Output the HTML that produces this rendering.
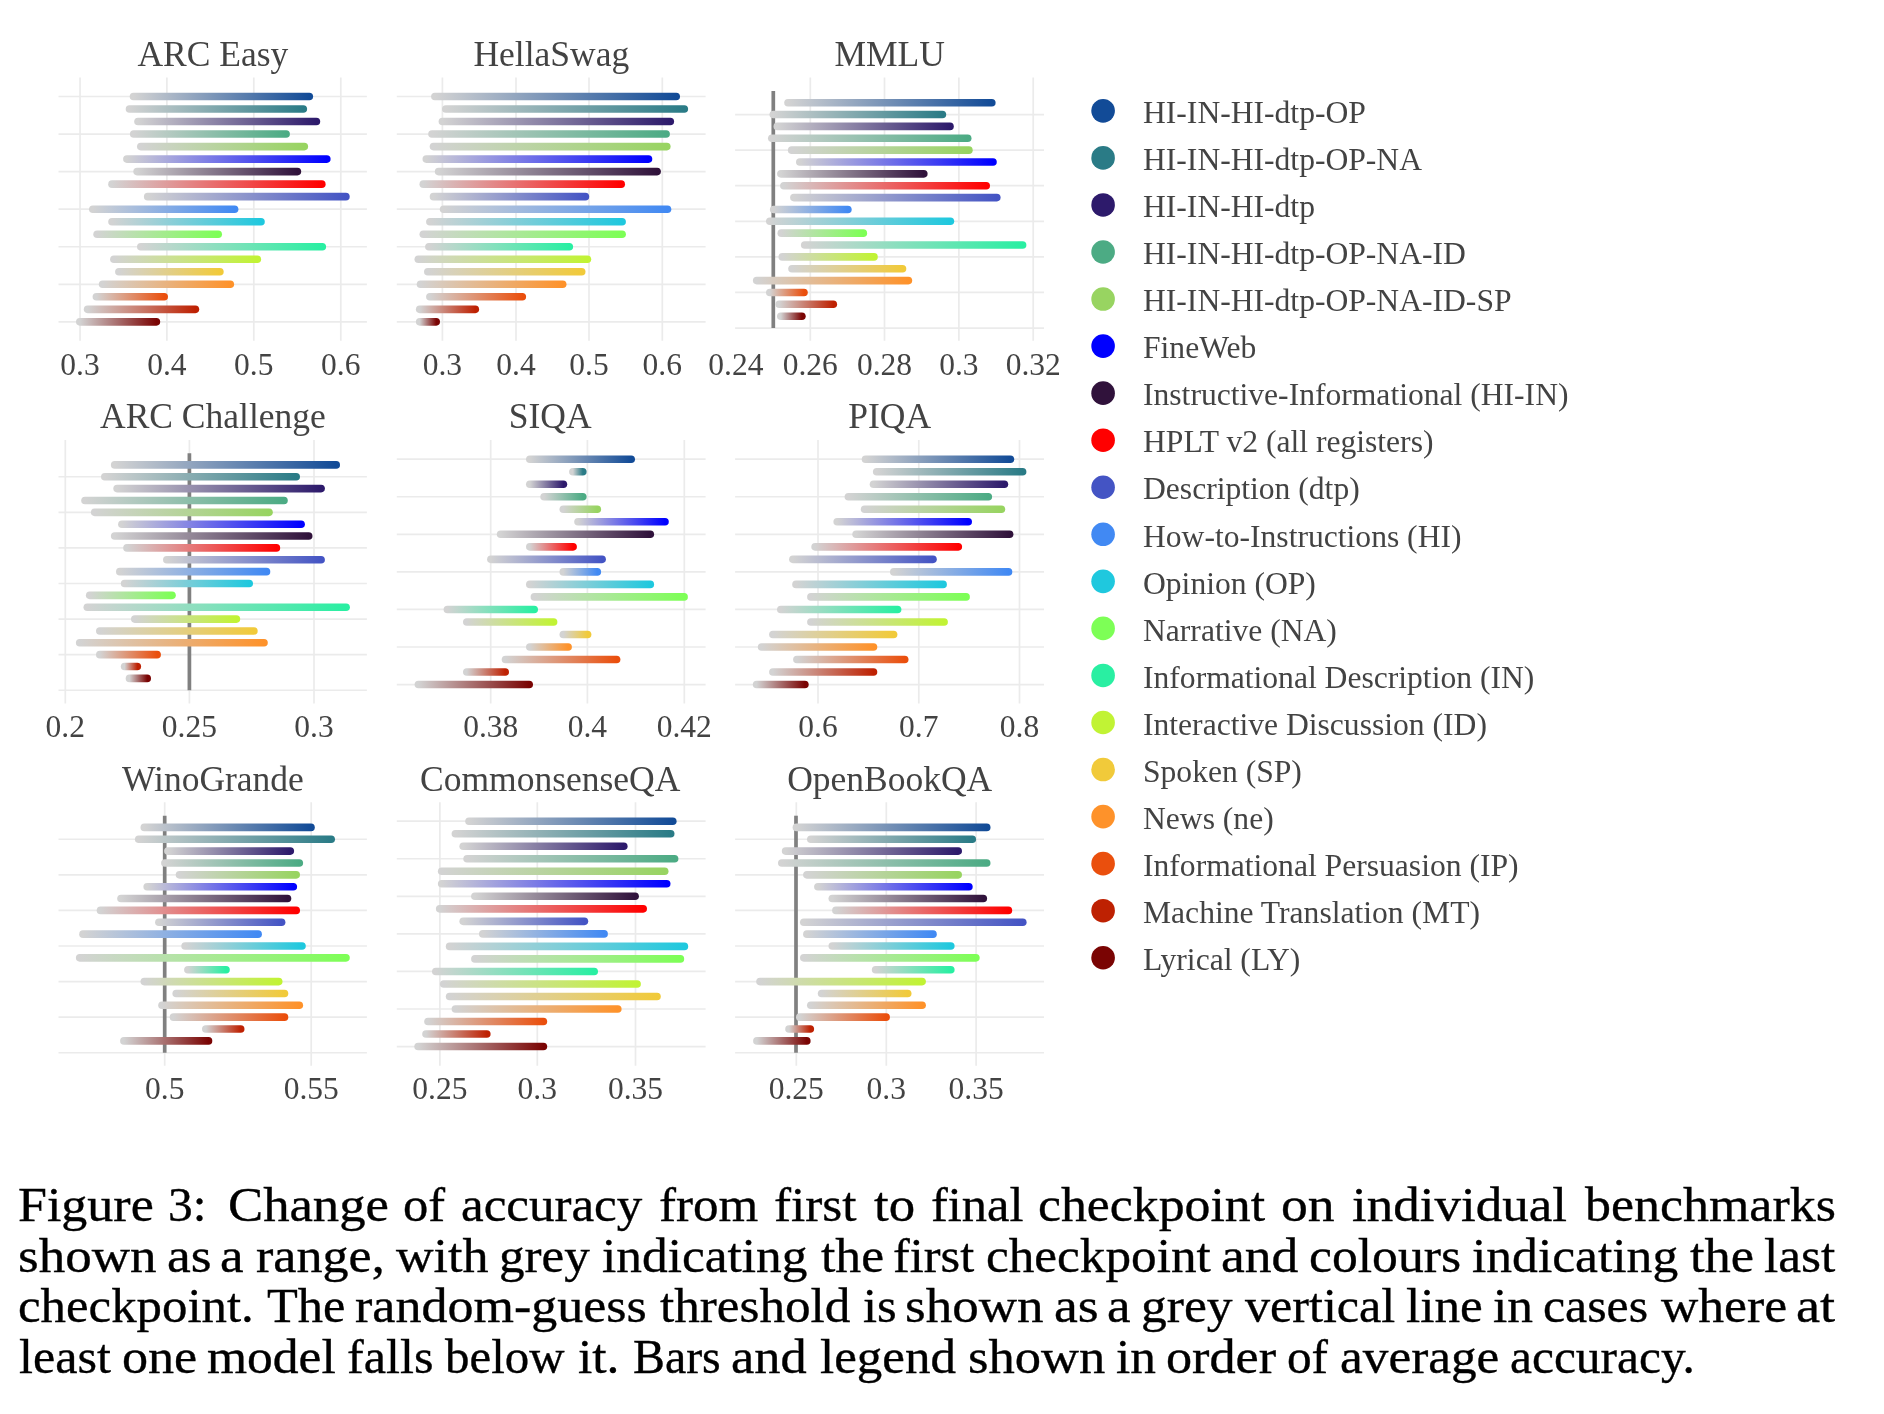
<!DOCTYPE html>
<html><head><meta charset="utf-8"><title>Figure 3</title>
<style>
html,body{margin:0;padding:0;background:#fff;}
body{width:1884px;height:1414px;position:relative;overflow:hidden;}
svg{position:absolute;left:0;top:0;will-change:transform;}
svg text{font-family:"Liberation Serif","Times New Roman",serif;fill:#434343;}
.ti{font-size:35.5px;text-anchor:middle;}
.tk{font-size:31.5px;text-anchor:middle;}
.lg{font-size:31.6px;}
.cap{position:absolute;left:0;top:0;width:1884px;height:1414px;will-change:transform;}
.cw{position:absolute;font-family:"Liberation Serif","Times New Roman",serif;font-size:47.5px;line-height:50px;-webkit-text-stroke:0.35px #000;color:#000;white-space:nowrap;transform-origin:0 0;}
</style></head><body>
<svg width="1884" height="1150" viewBox="0 0 1884 1150"><defs><linearGradient id="g1" gradientUnits="userSpaceOnUse" x1="133.5" y1="0" x2="309.3" y2="0"><stop offset="0" stop-color="#d3d3d3"/><stop offset="1" stop-color="#124b97"/></linearGradient><linearGradient id="g2" gradientUnits="userSpaceOnUse" x1="129.5" y1="0" x2="303.3" y2="0"><stop offset="0" stop-color="#d3d3d3"/><stop offset="1" stop-color="#2a7b86"/></linearGradient><linearGradient id="g3" gradientUnits="userSpaceOnUse" x1="138" y1="0" x2="316.4" y2="0"><stop offset="0" stop-color="#d3d3d3"/><stop offset="1" stop-color="#2d1a6b"/></linearGradient><linearGradient id="g4" gradientUnits="userSpaceOnUse" x1="133.7" y1="0" x2="286.1" y2="0"><stop offset="0" stop-color="#d3d3d3"/><stop offset="1" stop-color="#4cab84"/></linearGradient><linearGradient id="g5" gradientUnits="userSpaceOnUse" x1="140.8" y1="0" x2="304.3" y2="0"><stop offset="0" stop-color="#d3d3d3"/><stop offset="1" stop-color="#98d461"/></linearGradient><linearGradient id="g6" gradientUnits="userSpaceOnUse" x1="126.9" y1="0" x2="326.8" y2="0"><stop offset="0" stop-color="#d3d3d3"/><stop offset="1" stop-color="#0000ff"/></linearGradient><linearGradient id="g7" gradientUnits="userSpaceOnUse" x1="137.1" y1="0" x2="297.4" y2="0"><stop offset="0" stop-color="#d3d3d3"/><stop offset="1" stop-color="#30123b"/></linearGradient><linearGradient id="g8" gradientUnits="userSpaceOnUse" x1="112" y1="0" x2="321.8" y2="0"><stop offset="0" stop-color="#d3d3d3"/><stop offset="1" stop-color="#ff0000"/></linearGradient><linearGradient id="g9" gradientUnits="userSpaceOnUse" x1="147.7" y1="0" x2="345.9" y2="0"><stop offset="0" stop-color="#d3d3d3"/><stop offset="1" stop-color="#4454c4"/></linearGradient><linearGradient id="g10" gradientUnits="userSpaceOnUse" x1="92.8" y1="0" x2="234.6" y2="0"><stop offset="0" stop-color="#d3d3d3"/><stop offset="1" stop-color="#4189f3"/></linearGradient><linearGradient id="g11" gradientUnits="userSpaceOnUse" x1="112" y1="0" x2="261" y2="0"><stop offset="0" stop-color="#d3d3d3"/><stop offset="1" stop-color="#1fc8de"/></linearGradient><linearGradient id="g12" gradientUnits="userSpaceOnUse" x1="97.1" y1="0" x2="218.2" y2="0"><stop offset="0" stop-color="#d3d3d3"/><stop offset="1" stop-color="#7dff56"/></linearGradient><linearGradient id="g13" gradientUnits="userSpaceOnUse" x1="140.8" y1="0" x2="322.3" y2="0"><stop offset="0" stop-color="#d3d3d3"/><stop offset="1" stop-color="#29efa2"/></linearGradient><linearGradient id="g14" gradientUnits="userSpaceOnUse" x1="113.9" y1="0" x2="257.3" y2="0"><stop offset="0" stop-color="#d3d3d3"/><stop offset="1" stop-color="#c1f334"/></linearGradient><linearGradient id="g15" gradientUnits="userSpaceOnUse" x1="118.9" y1="0" x2="219.9" y2="0"><stop offset="0" stop-color="#d3d3d3"/><stop offset="1" stop-color="#f1ca3a"/></linearGradient><linearGradient id="g16" gradientUnits="userSpaceOnUse" x1="102.6" y1="0" x2="230.3" y2="0"><stop offset="0" stop-color="#d3d3d3"/><stop offset="1" stop-color="#fe922a"/></linearGradient><linearGradient id="g17" gradientUnits="userSpaceOnUse" x1="96.4" y1="0" x2="164.2" y2="0"><stop offset="0" stop-color="#d3d3d3"/><stop offset="1" stop-color="#ea4f0d"/></linearGradient><linearGradient id="g18" gradientUnits="userSpaceOnUse" x1="87.6" y1="0" x2="195.4" y2="0"><stop offset="0" stop-color="#d3d3d3"/><stop offset="1" stop-color="#be2102"/></linearGradient><linearGradient id="g19" gradientUnits="userSpaceOnUse" x1="79.8" y1="0" x2="156.4" y2="0"><stop offset="0" stop-color="#d3d3d3"/><stop offset="1" stop-color="#7a0403"/></linearGradient><linearGradient id="g20" gradientUnits="userSpaceOnUse" x1="434.9" y1="0" x2="676.2" y2="0"><stop offset="0" stop-color="#d3d3d3"/><stop offset="1" stop-color="#124b97"/></linearGradient><linearGradient id="g21" gradientUnits="userSpaceOnUse" x1="445.8" y1="0" x2="684.3" y2="0"><stop offset="0" stop-color="#d3d3d3"/><stop offset="1" stop-color="#2a7b86"/></linearGradient><linearGradient id="g22" gradientUnits="userSpaceOnUse" x1="442.4" y1="0" x2="670.3" y2="0"><stop offset="0" stop-color="#d3d3d3"/><stop offset="1" stop-color="#2d1a6b"/></linearGradient><linearGradient id="g23" gradientUnits="userSpaceOnUse" x1="432" y1="0" x2="666.1" y2="0"><stop offset="0" stop-color="#d3d3d3"/><stop offset="1" stop-color="#4cab84"/></linearGradient><linearGradient id="g24" gradientUnits="userSpaceOnUse" x1="433.5" y1="0" x2="666.8" y2="0"><stop offset="0" stop-color="#d3d3d3"/><stop offset="1" stop-color="#98d461"/></linearGradient><linearGradient id="g25" gradientUnits="userSpaceOnUse" x1="426.3" y1="0" x2="648.5" y2="0"><stop offset="0" stop-color="#d3d3d3"/><stop offset="1" stop-color="#0000ff"/></linearGradient><linearGradient id="g26" gradientUnits="userSpaceOnUse" x1="438.6" y1="0" x2="657.1" y2="0"><stop offset="0" stop-color="#d3d3d3"/><stop offset="1" stop-color="#30123b"/></linearGradient><linearGradient id="g27" gradientUnits="userSpaceOnUse" x1="423.3" y1="0" x2="621.2" y2="0"><stop offset="0" stop-color="#d3d3d3"/><stop offset="1" stop-color="#ff0000"/></linearGradient><linearGradient id="g28" gradientUnits="userSpaceOnUse" x1="433.5" y1="0" x2="585.4" y2="0"><stop offset="0" stop-color="#d3d3d3"/><stop offset="1" stop-color="#4454c4"/></linearGradient><linearGradient id="g29" gradientUnits="userSpaceOnUse" x1="443.6" y1="0" x2="667.5" y2="0"><stop offset="0" stop-color="#d3d3d3"/><stop offset="1" stop-color="#4189f3"/></linearGradient><linearGradient id="g30" gradientUnits="userSpaceOnUse" x1="429.9" y1="0" x2="622.1" y2="0"><stop offset="0" stop-color="#d3d3d3"/><stop offset="1" stop-color="#1fc8de"/></linearGradient><linearGradient id="g31" gradientUnits="userSpaceOnUse" x1="423.3" y1="0" x2="622.1" y2="0"><stop offset="0" stop-color="#d3d3d3"/><stop offset="1" stop-color="#7dff56"/></linearGradient><linearGradient id="g32" gradientUnits="userSpaceOnUse" x1="428.9" y1="0" x2="569.3" y2="0"><stop offset="0" stop-color="#d3d3d3"/><stop offset="1" stop-color="#29efa2"/></linearGradient><linearGradient id="g33" gradientUnits="userSpaceOnUse" x1="418.3" y1="0" x2="587.4" y2="0"><stop offset="0" stop-color="#d3d3d3"/><stop offset="1" stop-color="#c1f334"/></linearGradient><linearGradient id="g34" gradientUnits="userSpaceOnUse" x1="427.8" y1="0" x2="581.7" y2="0"><stop offset="0" stop-color="#d3d3d3"/><stop offset="1" stop-color="#f1ca3a"/></linearGradient><linearGradient id="g35" gradientUnits="userSpaceOnUse" x1="420.5" y1="0" x2="562.7" y2="0"><stop offset="0" stop-color="#d3d3d3"/><stop offset="1" stop-color="#fe922a"/></linearGradient><linearGradient id="g36" gradientUnits="userSpaceOnUse" x1="429.9" y1="0" x2="522.3" y2="0"><stop offset="0" stop-color="#d3d3d3"/><stop offset="1" stop-color="#ea4f0d"/></linearGradient><linearGradient id="g37" gradientUnits="userSpaceOnUse" x1="419.7" y1="0" x2="475.3" y2="0"><stop offset="0" stop-color="#d3d3d3"/><stop offset="1" stop-color="#be2102"/></linearGradient><linearGradient id="g38" gradientUnits="userSpaceOnUse" x1="419.7" y1="0" x2="436.2" y2="0"><stop offset="0" stop-color="#d3d3d3"/><stop offset="1" stop-color="#7a0403"/></linearGradient><linearGradient id="g39" gradientUnits="userSpaceOnUse" x1="788" y1="0" x2="991.8" y2="0"><stop offset="0" stop-color="#d3d3d3"/><stop offset="1" stop-color="#124b97"/></linearGradient><linearGradient id="g40" gradientUnits="userSpaceOnUse" x1="773.3" y1="0" x2="942.4" y2="0"><stop offset="0" stop-color="#d3d3d3"/><stop offset="1" stop-color="#2a7b86"/></linearGradient><linearGradient id="g41" gradientUnits="userSpaceOnUse" x1="777.3" y1="0" x2="950" y2="0"><stop offset="0" stop-color="#d3d3d3"/><stop offset="1" stop-color="#2d1a6b"/></linearGradient><linearGradient id="g42" gradientUnits="userSpaceOnUse" x1="771.8" y1="0" x2="967.7" y2="0"><stop offset="0" stop-color="#d3d3d3"/><stop offset="1" stop-color="#4cab84"/></linearGradient><linearGradient id="g43" gradientUnits="userSpaceOnUse" x1="791.7" y1="0" x2="968.9" y2="0"><stop offset="0" stop-color="#d3d3d3"/><stop offset="1" stop-color="#98d461"/></linearGradient><linearGradient id="g44" gradientUnits="userSpaceOnUse" x1="799.8" y1="0" x2="993" y2="0"><stop offset="0" stop-color="#d3d3d3"/><stop offset="1" stop-color="#0000ff"/></linearGradient><linearGradient id="g45" gradientUnits="userSpaceOnUse" x1="780.9" y1="0" x2="923.8" y2="0"><stop offset="0" stop-color="#d3d3d3"/><stop offset="1" stop-color="#30123b"/></linearGradient><linearGradient id="g46" gradientUnits="userSpaceOnUse" x1="783.9" y1="0" x2="986.2" y2="0"><stop offset="0" stop-color="#d3d3d3"/><stop offset="1" stop-color="#ff0000"/></linearGradient><linearGradient id="g47" gradientUnits="userSpaceOnUse" x1="793.9" y1="0" x2="996.8" y2="0"><stop offset="0" stop-color="#d3d3d3"/><stop offset="1" stop-color="#4454c4"/></linearGradient><linearGradient id="g48" gradientUnits="userSpaceOnUse" x1="773.7" y1="0" x2="847.9" y2="0"><stop offset="0" stop-color="#d3d3d3"/><stop offset="1" stop-color="#4189f3"/></linearGradient><linearGradient id="g49" gradientUnits="userSpaceOnUse" x1="769.8" y1="0" x2="950.4" y2="0"><stop offset="0" stop-color="#d3d3d3"/><stop offset="1" stop-color="#1fc8de"/></linearGradient><linearGradient id="g50" gradientUnits="userSpaceOnUse" x1="781.3" y1="0" x2="863.3" y2="0"><stop offset="0" stop-color="#d3d3d3"/><stop offset="1" stop-color="#7dff56"/></linearGradient><linearGradient id="g51" gradientUnits="userSpaceOnUse" x1="804.7" y1="0" x2="1022.6" y2="0"><stop offset="0" stop-color="#d3d3d3"/><stop offset="1" stop-color="#29efa2"/></linearGradient><linearGradient id="g52" gradientUnits="userSpaceOnUse" x1="782.3" y1="0" x2="874" y2="0"><stop offset="0" stop-color="#d3d3d3"/><stop offset="1" stop-color="#c1f334"/></linearGradient><linearGradient id="g53" gradientUnits="userSpaceOnUse" x1="792" y1="0" x2="902.5" y2="0"><stop offset="0" stop-color="#d3d3d3"/><stop offset="1" stop-color="#f1ca3a"/></linearGradient><linearGradient id="g54" gradientUnits="userSpaceOnUse" x1="756.7" y1="0" x2="908.4" y2="0"><stop offset="0" stop-color="#d3d3d3"/><stop offset="1" stop-color="#fe922a"/></linearGradient><linearGradient id="g55" gradientUnits="userSpaceOnUse" x1="769.8" y1="0" x2="804" y2="0"><stop offset="0" stop-color="#d3d3d3"/><stop offset="1" stop-color="#ea4f0d"/></linearGradient><linearGradient id="g56" gradientUnits="userSpaceOnUse" x1="779.2" y1="0" x2="833.3" y2="0"><stop offset="0" stop-color="#d3d3d3"/><stop offset="1" stop-color="#be2102"/></linearGradient><linearGradient id="g57" gradientUnits="userSpaceOnUse" x1="780.8" y1="0" x2="801.9" y2="0"><stop offset="0" stop-color="#d3d3d3"/><stop offset="1" stop-color="#7a0403"/></linearGradient><linearGradient id="g58" gradientUnits="userSpaceOnUse" x1="114.7" y1="0" x2="336.2" y2="0"><stop offset="0" stop-color="#d3d3d3"/><stop offset="1" stop-color="#124b97"/></linearGradient><linearGradient id="g59" gradientUnits="userSpaceOnUse" x1="104.8" y1="0" x2="296.2" y2="0"><stop offset="0" stop-color="#d3d3d3"/><stop offset="1" stop-color="#2a7b86"/></linearGradient><linearGradient id="g60" gradientUnits="userSpaceOnUse" x1="117.1" y1="0" x2="321.1" y2="0"><stop offset="0" stop-color="#d3d3d3"/><stop offset="1" stop-color="#2d1a6b"/></linearGradient><linearGradient id="g61" gradientUnits="userSpaceOnUse" x1="85" y1="0" x2="284" y2="0"><stop offset="0" stop-color="#d3d3d3"/><stop offset="1" stop-color="#4cab84"/></linearGradient><linearGradient id="g62" gradientUnits="userSpaceOnUse" x1="94.7" y1="0" x2="269" y2="0"><stop offset="0" stop-color="#d3d3d3"/><stop offset="1" stop-color="#98d461"/></linearGradient><linearGradient id="g63" gradientUnits="userSpaceOnUse" x1="121.9" y1="0" x2="301.1" y2="0"><stop offset="0" stop-color="#d3d3d3"/><stop offset="1" stop-color="#0000ff"/></linearGradient><linearGradient id="g64" gradientUnits="userSpaceOnUse" x1="114.7" y1="0" x2="308.7" y2="0"><stop offset="0" stop-color="#d3d3d3"/><stop offset="1" stop-color="#30123b"/></linearGradient><linearGradient id="g65" gradientUnits="userSpaceOnUse" x1="127" y1="0" x2="276.4" y2="0"><stop offset="0" stop-color="#d3d3d3"/><stop offset="1" stop-color="#ff0000"/></linearGradient><linearGradient id="g66" gradientUnits="userSpaceOnUse" x1="166.8" y1="0" x2="321.1" y2="0"><stop offset="0" stop-color="#d3d3d3"/><stop offset="1" stop-color="#4454c4"/></linearGradient><linearGradient id="g67" gradientUnits="userSpaceOnUse" x1="119.8" y1="0" x2="266.5" y2="0"><stop offset="0" stop-color="#d3d3d3"/><stop offset="1" stop-color="#4189f3"/></linearGradient><linearGradient id="g68" gradientUnits="userSpaceOnUse" x1="124.6" y1="0" x2="249.2" y2="0"><stop offset="0" stop-color="#d3d3d3"/><stop offset="1" stop-color="#1fc8de"/></linearGradient><linearGradient id="g69" gradientUnits="userSpaceOnUse" x1="89.7" y1="0" x2="172" y2="0"><stop offset="0" stop-color="#d3d3d3"/><stop offset="1" stop-color="#7dff56"/></linearGradient><linearGradient id="g70" gradientUnits="userSpaceOnUse" x1="87.3" y1="0" x2="346.1" y2="0"><stop offset="0" stop-color="#d3d3d3"/><stop offset="1" stop-color="#29efa2"/></linearGradient><linearGradient id="g71" gradientUnits="userSpaceOnUse" x1="134.8" y1="0" x2="236.4" y2="0"><stop offset="0" stop-color="#d3d3d3"/><stop offset="1" stop-color="#c1f334"/></linearGradient><linearGradient id="g72" gradientUnits="userSpaceOnUse" x1="99.8" y1="0" x2="253.9" y2="0"><stop offset="0" stop-color="#d3d3d3"/><stop offset="1" stop-color="#f1ca3a"/></linearGradient><linearGradient id="g73" gradientUnits="userSpaceOnUse" x1="79.7" y1="0" x2="264" y2="0"><stop offset="0" stop-color="#d3d3d3"/><stop offset="1" stop-color="#fe922a"/></linearGradient><linearGradient id="g74" gradientUnits="userSpaceOnUse" x1="99.8" y1="0" x2="157.1" y2="0"><stop offset="0" stop-color="#d3d3d3"/><stop offset="1" stop-color="#ea4f0d"/></linearGradient><linearGradient id="g75" gradientUnits="userSpaceOnUse" x1="124.6" y1="0" x2="137.3" y2="0"><stop offset="0" stop-color="#d3d3d3"/><stop offset="1" stop-color="#be2102"/></linearGradient><linearGradient id="g76" gradientUnits="userSpaceOnUse" x1="129.5" y1="0" x2="147.2" y2="0"><stop offset="0" stop-color="#d3d3d3"/><stop offset="1" stop-color="#7a0403"/></linearGradient><linearGradient id="g77" gradientUnits="userSpaceOnUse" x1="529.8" y1="0" x2="631.2" y2="0"><stop offset="0" stop-color="#d3d3d3"/><stop offset="1" stop-color="#124b97"/></linearGradient><linearGradient id="g78" gradientUnits="userSpaceOnUse" x1="572.9" y1="0" x2="582.8" y2="0"><stop offset="0" stop-color="#d3d3d3"/><stop offset="1" stop-color="#2a7b86"/></linearGradient><linearGradient id="g79" gradientUnits="userSpaceOnUse" x1="529.8" y1="0" x2="563.4" y2="0"><stop offset="0" stop-color="#d3d3d3"/><stop offset="1" stop-color="#2d1a6b"/></linearGradient><linearGradient id="g80" gradientUnits="userSpaceOnUse" x1="544.1" y1="0" x2="582.8" y2="0"><stop offset="0" stop-color="#d3d3d3"/><stop offset="1" stop-color="#4cab84"/></linearGradient><linearGradient id="g81" gradientUnits="userSpaceOnUse" x1="563.3" y1="0" x2="597.3" y2="0"><stop offset="0" stop-color="#d3d3d3"/><stop offset="1" stop-color="#98d461"/></linearGradient><linearGradient id="g82" gradientUnits="userSpaceOnUse" x1="578" y1="0" x2="665" y2="0"><stop offset="0" stop-color="#d3d3d3"/><stop offset="1" stop-color="#0000ff"/></linearGradient><linearGradient id="g83" gradientUnits="userSpaceOnUse" x1="500.6" y1="0" x2="650.3" y2="0"><stop offset="0" stop-color="#d3d3d3"/><stop offset="1" stop-color="#30123b"/></linearGradient><linearGradient id="g84" gradientUnits="userSpaceOnUse" x1="529.8" y1="0" x2="573.1" y2="0"><stop offset="0" stop-color="#d3d3d3"/><stop offset="1" stop-color="#ff0000"/></linearGradient><linearGradient id="g85" gradientUnits="userSpaceOnUse" x1="490.9" y1="0" x2="602.1" y2="0"><stop offset="0" stop-color="#d3d3d3"/><stop offset="1" stop-color="#4454c4"/></linearGradient><linearGradient id="g86" gradientUnits="userSpaceOnUse" x1="563.3" y1="0" x2="597.3" y2="0"><stop offset="0" stop-color="#d3d3d3"/><stop offset="1" stop-color="#4189f3"/></linearGradient><linearGradient id="g87" gradientUnits="userSpaceOnUse" x1="529.8" y1="0" x2="650.3" y2="0"><stop offset="0" stop-color="#d3d3d3"/><stop offset="1" stop-color="#1fc8de"/></linearGradient><linearGradient id="g88" gradientUnits="userSpaceOnUse" x1="534.4" y1="0" x2="684.1" y2="0"><stop offset="0" stop-color="#d3d3d3"/><stop offset="1" stop-color="#7dff56"/></linearGradient><linearGradient id="g89" gradientUnits="userSpaceOnUse" x1="447.4" y1="0" x2="534.2" y2="0"><stop offset="0" stop-color="#d3d3d3"/><stop offset="1" stop-color="#29efa2"/></linearGradient><linearGradient id="g90" gradientUnits="userSpaceOnUse" x1="466.8" y1="0" x2="553.6" y2="0"><stop offset="0" stop-color="#d3d3d3"/><stop offset="1" stop-color="#c1f334"/></linearGradient><linearGradient id="g91" gradientUnits="userSpaceOnUse" x1="563.3" y1="0" x2="587.6" y2="0"><stop offset="0" stop-color="#d3d3d3"/><stop offset="1" stop-color="#f1ca3a"/></linearGradient><linearGradient id="g92" gradientUnits="userSpaceOnUse" x1="529.8" y1="0" x2="568.1" y2="0"><stop offset="0" stop-color="#d3d3d3"/><stop offset="1" stop-color="#fe922a"/></linearGradient><linearGradient id="g93" gradientUnits="userSpaceOnUse" x1="505.5" y1="0" x2="616.6" y2="0"><stop offset="0" stop-color="#d3d3d3"/><stop offset="1" stop-color="#ea4f0d"/></linearGradient><linearGradient id="g94" gradientUnits="userSpaceOnUse" x1="466.8" y1="0" x2="505.2" y2="0"><stop offset="0" stop-color="#d3d3d3"/><stop offset="1" stop-color="#be2102"/></linearGradient><linearGradient id="g95" gradientUnits="userSpaceOnUse" x1="418.4" y1="0" x2="529.2" y2="0"><stop offset="0" stop-color="#d3d3d3"/><stop offset="1" stop-color="#7a0403"/></linearGradient><linearGradient id="g96" gradientUnits="userSpaceOnUse" x1="865.5" y1="0" x2="1010.4" y2="0"><stop offset="0" stop-color="#d3d3d3"/><stop offset="1" stop-color="#124b97"/></linearGradient><linearGradient id="g97" gradientUnits="userSpaceOnUse" x1="876.7" y1="0" x2="1022.6" y2="0"><stop offset="0" stop-color="#d3d3d3"/><stop offset="1" stop-color="#2a7b86"/></linearGradient><linearGradient id="g98" gradientUnits="userSpaceOnUse" x1="873.5" y1="0" x2="1004.4" y2="0"><stop offset="0" stop-color="#d3d3d3"/><stop offset="1" stop-color="#2d1a6b"/></linearGradient><linearGradient id="g99" gradientUnits="userSpaceOnUse" x1="848.4" y1="0" x2="988.3" y2="0"><stop offset="0" stop-color="#d3d3d3"/><stop offset="1" stop-color="#4cab84"/></linearGradient><linearGradient id="g100" gradientUnits="userSpaceOnUse" x1="864.6" y1="0" x2="1001.4" y2="0"><stop offset="0" stop-color="#d3d3d3"/><stop offset="1" stop-color="#98d461"/></linearGradient><linearGradient id="g101" gradientUnits="userSpaceOnUse" x1="837.2" y1="0" x2="968.2" y2="0"><stop offset="0" stop-color="#d3d3d3"/><stop offset="1" stop-color="#0000ff"/></linearGradient><linearGradient id="g102" gradientUnits="userSpaceOnUse" x1="856.1" y1="0" x2="1009.6" y2="0"><stop offset="0" stop-color="#d3d3d3"/><stop offset="1" stop-color="#30123b"/></linearGradient><linearGradient id="g103" gradientUnits="userSpaceOnUse" x1="815.1" y1="0" x2="958.3" y2="0"><stop offset="0" stop-color="#d3d3d3"/><stop offset="1" stop-color="#ff0000"/></linearGradient><linearGradient id="g104" gradientUnits="userSpaceOnUse" x1="792.9" y1="0" x2="933" y2="0"><stop offset="0" stop-color="#d3d3d3"/><stop offset="1" stop-color="#4454c4"/></linearGradient><linearGradient id="g105" gradientUnits="userSpaceOnUse" x1="893.8" y1="0" x2="1008.5" y2="0"><stop offset="0" stop-color="#d3d3d3"/><stop offset="1" stop-color="#4189f3"/></linearGradient><linearGradient id="g106" gradientUnits="userSpaceOnUse" x1="796" y1="0" x2="943.1" y2="0"><stop offset="0" stop-color="#d3d3d3"/><stop offset="1" stop-color="#1fc8de"/></linearGradient><linearGradient id="g107" gradientUnits="userSpaceOnUse" x1="810.9" y1="0" x2="966.1" y2="0"><stop offset="0" stop-color="#d3d3d3"/><stop offset="1" stop-color="#7dff56"/></linearGradient><linearGradient id="g108" gradientUnits="userSpaceOnUse" x1="780.8" y1="0" x2="897.6" y2="0"><stop offset="0" stop-color="#d3d3d3"/><stop offset="1" stop-color="#29efa2"/></linearGradient><linearGradient id="g109" gradientUnits="userSpaceOnUse" x1="810.9" y1="0" x2="944.1" y2="0"><stop offset="0" stop-color="#d3d3d3"/><stop offset="1" stop-color="#c1f334"/></linearGradient><linearGradient id="g110" gradientUnits="userSpaceOnUse" x1="772.9" y1="0" x2="893.6" y2="0"><stop offset="0" stop-color="#d3d3d3"/><stop offset="1" stop-color="#f1ca3a"/></linearGradient><linearGradient id="g111" gradientUnits="userSpaceOnUse" x1="761.6" y1="0" x2="873.5" y2="0"><stop offset="0" stop-color="#d3d3d3"/><stop offset="1" stop-color="#fe922a"/></linearGradient><linearGradient id="g112" gradientUnits="userSpaceOnUse" x1="796.9" y1="0" x2="904.7" y2="0"><stop offset="0" stop-color="#d3d3d3"/><stop offset="1" stop-color="#ea4f0d"/></linearGradient><linearGradient id="g113" gradientUnits="userSpaceOnUse" x1="772.9" y1="0" x2="873.5" y2="0"><stop offset="0" stop-color="#d3d3d3"/><stop offset="1" stop-color="#be2102"/></linearGradient><linearGradient id="g114" gradientUnits="userSpaceOnUse" x1="756.6" y1="0" x2="804.9" y2="0"><stop offset="0" stop-color="#d3d3d3"/><stop offset="1" stop-color="#7a0403"/></linearGradient><linearGradient id="g115" gradientUnits="userSpaceOnUse" x1="144.3" y1="0" x2="311" y2="0"><stop offset="0" stop-color="#d3d3d3"/><stop offset="1" stop-color="#124b97"/></linearGradient><linearGradient id="g116" gradientUnits="userSpaceOnUse" x1="138.7" y1="0" x2="331.2" y2="0"><stop offset="0" stop-color="#d3d3d3"/><stop offset="1" stop-color="#2a7b86"/></linearGradient><linearGradient id="g117" gradientUnits="userSpaceOnUse" x1="167.9" y1="0" x2="290.3" y2="0"><stop offset="0" stop-color="#d3d3d3"/><stop offset="1" stop-color="#2d1a6b"/></linearGradient><linearGradient id="g118" gradientUnits="userSpaceOnUse" x1="164.9" y1="0" x2="299.3" y2="0"><stop offset="0" stop-color="#d3d3d3"/><stop offset="1" stop-color="#4cab84"/></linearGradient><linearGradient id="g119" gradientUnits="userSpaceOnUse" x1="179.5" y1="0" x2="296.2" y2="0"><stop offset="0" stop-color="#d3d3d3"/><stop offset="1" stop-color="#98d461"/></linearGradient><linearGradient id="g120" gradientUnits="userSpaceOnUse" x1="147.2" y1="0" x2="293.3" y2="0"><stop offset="0" stop-color="#d3d3d3"/><stop offset="1" stop-color="#0000ff"/></linearGradient><linearGradient id="g121" gradientUnits="userSpaceOnUse" x1="121" y1="0" x2="287.5" y2="0"><stop offset="0" stop-color="#d3d3d3"/><stop offset="1" stop-color="#30123b"/></linearGradient><linearGradient id="g122" gradientUnits="userSpaceOnUse" x1="100.5" y1="0" x2="296.2" y2="0"><stop offset="0" stop-color="#d3d3d3"/><stop offset="1" stop-color="#ff0000"/></linearGradient><linearGradient id="g123" gradientUnits="userSpaceOnUse" x1="158.9" y1="0" x2="281.6" y2="0"><stop offset="0" stop-color="#d3d3d3"/><stop offset="1" stop-color="#4454c4"/></linearGradient><linearGradient id="g124" gradientUnits="userSpaceOnUse" x1="83" y1="0" x2="258.1" y2="0"><stop offset="0" stop-color="#d3d3d3"/><stop offset="1" stop-color="#4189f3"/></linearGradient><linearGradient id="g125" gradientUnits="userSpaceOnUse" x1="185.1" y1="0" x2="302" y2="0"><stop offset="0" stop-color="#d3d3d3"/><stop offset="1" stop-color="#1fc8de"/></linearGradient><linearGradient id="g126" gradientUnits="userSpaceOnUse" x1="79.7" y1="0" x2="346" y2="0"><stop offset="0" stop-color="#d3d3d3"/><stop offset="1" stop-color="#7dff56"/></linearGradient><linearGradient id="g127" gradientUnits="userSpaceOnUse" x1="187.9" y1="0" x2="226" y2="0"><stop offset="0" stop-color="#d3d3d3"/><stop offset="1" stop-color="#29efa2"/></linearGradient><linearGradient id="g128" gradientUnits="userSpaceOnUse" x1="144.3" y1="0" x2="278.7" y2="0"><stop offset="0" stop-color="#d3d3d3"/><stop offset="1" stop-color="#c1f334"/></linearGradient><linearGradient id="g129" gradientUnits="userSpaceOnUse" x1="176.2" y1="0" x2="284.5" y2="0"><stop offset="0" stop-color="#d3d3d3"/><stop offset="1" stop-color="#f1ca3a"/></linearGradient><linearGradient id="g130" gradientUnits="userSpaceOnUse" x1="162" y1="0" x2="299.3" y2="0"><stop offset="0" stop-color="#d3d3d3"/><stop offset="1" stop-color="#fe922a"/></linearGradient><linearGradient id="g131" gradientUnits="userSpaceOnUse" x1="173.5" y1="0" x2="284.5" y2="0"><stop offset="0" stop-color="#d3d3d3"/><stop offset="1" stop-color="#ea4f0d"/></linearGradient><linearGradient id="g132" gradientUnits="userSpaceOnUse" x1="205.8" y1="0" x2="240.7" y2="0"><stop offset="0" stop-color="#d3d3d3"/><stop offset="1" stop-color="#be2102"/></linearGradient><linearGradient id="g133" gradientUnits="userSpaceOnUse" x1="123.9" y1="0" x2="208.5" y2="0"><stop offset="0" stop-color="#d3d3d3"/><stop offset="1" stop-color="#7a0403"/></linearGradient><linearGradient id="g134" gradientUnits="userSpaceOnUse" x1="469" y1="0" x2="672.8" y2="0"><stop offset="0" stop-color="#d3d3d3"/><stop offset="1" stop-color="#124b97"/></linearGradient><linearGradient id="g135" gradientUnits="userSpaceOnUse" x1="455.4" y1="0" x2="670.7" y2="0"><stop offset="0" stop-color="#d3d3d3"/><stop offset="1" stop-color="#2a7b86"/></linearGradient><linearGradient id="g136" gradientUnits="userSpaceOnUse" x1="463.2" y1="0" x2="623.8" y2="0"><stop offset="0" stop-color="#d3d3d3"/><stop offset="1" stop-color="#2d1a6b"/></linearGradient><linearGradient id="g137" gradientUnits="userSpaceOnUse" x1="467.1" y1="0" x2="674.6" y2="0"><stop offset="0" stop-color="#d3d3d3"/><stop offset="1" stop-color="#4cab84"/></linearGradient><linearGradient id="g138" gradientUnits="userSpaceOnUse" x1="441.7" y1="0" x2="664.7" y2="0"><stop offset="0" stop-color="#d3d3d3"/><stop offset="1" stop-color="#98d461"/></linearGradient><linearGradient id="g139" gradientUnits="userSpaceOnUse" x1="441.7" y1="0" x2="666.7" y2="0"><stop offset="0" stop-color="#d3d3d3"/><stop offset="1" stop-color="#0000ff"/></linearGradient><linearGradient id="g140" gradientUnits="userSpaceOnUse" x1="474.9" y1="0" x2="635.1" y2="0"><stop offset="0" stop-color="#d3d3d3"/><stop offset="1" stop-color="#30123b"/></linearGradient><linearGradient id="g141" gradientUnits="userSpaceOnUse" x1="439.7" y1="0" x2="643.2" y2="0"><stop offset="0" stop-color="#d3d3d3"/><stop offset="1" stop-color="#ff0000"/></linearGradient><linearGradient id="g142" gradientUnits="userSpaceOnUse" x1="463.2" y1="0" x2="584.4" y2="0"><stop offset="0" stop-color="#d3d3d3"/><stop offset="1" stop-color="#4454c4"/></linearGradient><linearGradient id="g143" gradientUnits="userSpaceOnUse" x1="482.8" y1="0" x2="604.1" y2="0"><stop offset="0" stop-color="#d3d3d3"/><stop offset="1" stop-color="#4189f3"/></linearGradient><linearGradient id="g144" gradientUnits="userSpaceOnUse" x1="449.6" y1="0" x2="684.4" y2="0"><stop offset="0" stop-color="#d3d3d3"/><stop offset="1" stop-color="#1fc8de"/></linearGradient><linearGradient id="g145" gradientUnits="userSpaceOnUse" x1="474.9" y1="0" x2="680.4" y2="0"><stop offset="0" stop-color="#d3d3d3"/><stop offset="1" stop-color="#7dff56"/></linearGradient><linearGradient id="g146" gradientUnits="userSpaceOnUse" x1="435.8" y1="0" x2="594.2" y2="0"><stop offset="0" stop-color="#d3d3d3"/><stop offset="1" stop-color="#29efa2"/></linearGradient><linearGradient id="g147" gradientUnits="userSpaceOnUse" x1="443.7" y1="0" x2="637.1" y2="0"><stop offset="0" stop-color="#d3d3d3"/><stop offset="1" stop-color="#c1f334"/></linearGradient><linearGradient id="g148" gradientUnits="userSpaceOnUse" x1="449.6" y1="0" x2="657" y2="0"><stop offset="0" stop-color="#d3d3d3"/><stop offset="1" stop-color="#f1ca3a"/></linearGradient><linearGradient id="g149" gradientUnits="userSpaceOnUse" x1="455.4" y1="0" x2="617.8" y2="0"><stop offset="0" stop-color="#d3d3d3"/><stop offset="1" stop-color="#fe922a"/></linearGradient><linearGradient id="g150" gradientUnits="userSpaceOnUse" x1="428" y1="0" x2="543.4" y2="0"><stop offset="0" stop-color="#d3d3d3"/><stop offset="1" stop-color="#ea4f0d"/></linearGradient><linearGradient id="g151" gradientUnits="userSpaceOnUse" x1="426" y1="0" x2="486.8" y2="0"><stop offset="0" stop-color="#d3d3d3"/><stop offset="1" stop-color="#be2102"/></linearGradient><linearGradient id="g152" gradientUnits="userSpaceOnUse" x1="418.1" y1="0" x2="543.4" y2="0"><stop offset="0" stop-color="#d3d3d3"/><stop offset="1" stop-color="#7a0403"/></linearGradient><linearGradient id="g153" gradientUnits="userSpaceOnUse" x1="796.4" y1="0" x2="986.7" y2="0"><stop offset="0" stop-color="#d3d3d3"/><stop offset="1" stop-color="#124b97"/></linearGradient><linearGradient id="g154" gradientUnits="userSpaceOnUse" x1="810.8" y1="0" x2="972.3" y2="0"><stop offset="0" stop-color="#d3d3d3"/><stop offset="1" stop-color="#2a7b86"/></linearGradient><linearGradient id="g155" gradientUnits="userSpaceOnUse" x1="785.6" y1="0" x2="958.2" y2="0"><stop offset="0" stop-color="#d3d3d3"/><stop offset="1" stop-color="#2d1a6b"/></linearGradient><linearGradient id="g156" gradientUnits="userSpaceOnUse" x1="781.8" y1="0" x2="986.7" y2="0"><stop offset="0" stop-color="#d3d3d3"/><stop offset="1" stop-color="#4cab84"/></linearGradient><linearGradient id="g157" gradientUnits="userSpaceOnUse" x1="806.9" y1="0" x2="958.2" y2="0"><stop offset="0" stop-color="#d3d3d3"/><stop offset="1" stop-color="#98d461"/></linearGradient><linearGradient id="g158" gradientUnits="userSpaceOnUse" x1="817.9" y1="0" x2="968.9" y2="0"><stop offset="0" stop-color="#d3d3d3"/><stop offset="1" stop-color="#0000ff"/></linearGradient><linearGradient id="g159" gradientUnits="userSpaceOnUse" x1="832.3" y1="0" x2="983.3" y2="0"><stop offset="0" stop-color="#d3d3d3"/><stop offset="1" stop-color="#30123b"/></linearGradient><linearGradient id="g160" gradientUnits="userSpaceOnUse" x1="835.9" y1="0" x2="1008.4" y2="0"><stop offset="0" stop-color="#d3d3d3"/><stop offset="1" stop-color="#ff0000"/></linearGradient><linearGradient id="g161" gradientUnits="userSpaceOnUse" x1="803.8" y1="0" x2="1022.8" y2="0"><stop offset="0" stop-color="#d3d3d3"/><stop offset="1" stop-color="#4454c4"/></linearGradient><linearGradient id="g162" gradientUnits="userSpaceOnUse" x1="806.9" y1="0" x2="933" y2="0"><stop offset="0" stop-color="#d3d3d3"/><stop offset="1" stop-color="#4189f3"/></linearGradient><linearGradient id="g163" gradientUnits="userSpaceOnUse" x1="832.3" y1="0" x2="950.8" y2="0"><stop offset="0" stop-color="#d3d3d3"/><stop offset="1" stop-color="#1fc8de"/></linearGradient><linearGradient id="g164" gradientUnits="userSpaceOnUse" x1="803.8" y1="0" x2="975.9" y2="0"><stop offset="0" stop-color="#d3d3d3"/><stop offset="1" stop-color="#7dff56"/></linearGradient><linearGradient id="g165" gradientUnits="userSpaceOnUse" x1="875.6" y1="0" x2="950.8" y2="0"><stop offset="0" stop-color="#d3d3d3"/><stop offset="1" stop-color="#29efa2"/></linearGradient><linearGradient id="g166" gradientUnits="userSpaceOnUse" x1="760" y1="0" x2="922.1" y2="0"><stop offset="0" stop-color="#d3d3d3"/><stop offset="1" stop-color="#c1f334"/></linearGradient><linearGradient id="g167" gradientUnits="userSpaceOnUse" x1="821.6" y1="0" x2="907.7" y2="0"><stop offset="0" stop-color="#d3d3d3"/><stop offset="1" stop-color="#f1ca3a"/></linearGradient><linearGradient id="g168" gradientUnits="userSpaceOnUse" x1="810.8" y1="0" x2="922.1" y2="0"><stop offset="0" stop-color="#d3d3d3"/><stop offset="1" stop-color="#fe922a"/></linearGradient><linearGradient id="g169" gradientUnits="userSpaceOnUse" x1="799.8" y1="0" x2="886.1" y2="0"><stop offset="0" stop-color="#d3d3d3"/><stop offset="1" stop-color="#ea4f0d"/></linearGradient><linearGradient id="g170" gradientUnits="userSpaceOnUse" x1="789" y1="0" x2="810.3" y2="0"><stop offset="0" stop-color="#d3d3d3"/><stop offset="1" stop-color="#be2102"/></linearGradient><linearGradient id="g171" gradientUnits="userSpaceOnUse" x1="756.9" y1="0" x2="806.8" y2="0"><stop offset="0" stop-color="#d3d3d3"/><stop offset="1" stop-color="#7a0403"/></linearGradient></defs><g stroke="#ebebeb" stroke-width="1.7"><line x1="58.5" y1="96.5" x2="366.9" y2="96.5"/><line x1="58.5" y1="134.06" x2="366.9" y2="134.06"/><line x1="58.5" y1="171.62" x2="366.9" y2="171.62"/><line x1="58.5" y1="209.18" x2="366.9" y2="209.18"/><line x1="58.5" y1="246.74" x2="366.9" y2="246.74"/><line x1="58.5" y1="284.3" x2="366.9" y2="284.3"/><line x1="58.5" y1="321.86" x2="366.9" y2="321.86"/><line x1="80.05" y1="77.4" x2="80.05" y2="340.8"/><line x1="166.9" y1="77.4" x2="166.9" y2="340.8"/><line x1="253.8" y1="77.4" x2="253.8" y2="340.8"/><line x1="340.8" y1="77.4" x2="340.8" y2="340.8"/></g><g stroke-width="7.6" stroke-linecap="round"><line x1="133.5" y1="96.5" x2="309.3" y2="96.5" stroke="url(#g1)"/><line x1="129.5" y1="109.02" x2="303.3" y2="109.02" stroke="url(#g2)"/><line x1="138" y1="121.54" x2="316.4" y2="121.54" stroke="url(#g3)"/><line x1="133.7" y1="134.06" x2="286.1" y2="134.06" stroke="url(#g4)"/><line x1="140.8" y1="146.58" x2="304.3" y2="146.58" stroke="url(#g5)"/><line x1="126.9" y1="159.1" x2="326.8" y2="159.1" stroke="url(#g6)"/><line x1="137.1" y1="171.62" x2="297.4" y2="171.62" stroke="url(#g7)"/><line x1="112" y1="184.14" x2="321.8" y2="184.14" stroke="url(#g8)"/><line x1="147.7" y1="196.66" x2="345.9" y2="196.66" stroke="url(#g9)"/><line x1="92.8" y1="209.18" x2="234.6" y2="209.18" stroke="url(#g10)"/><line x1="112" y1="221.7" x2="261" y2="221.7" stroke="url(#g11)"/><line x1="97.1" y1="234.22" x2="218.2" y2="234.22" stroke="url(#g12)"/><line x1="140.8" y1="246.74" x2="322.3" y2="246.74" stroke="url(#g13)"/><line x1="113.9" y1="259.26" x2="257.3" y2="259.26" stroke="url(#g14)"/><line x1="118.9" y1="271.78" x2="219.9" y2="271.78" stroke="url(#g15)"/><line x1="102.6" y1="284.3" x2="230.3" y2="284.3" stroke="url(#g16)"/><line x1="96.4" y1="296.82" x2="164.2" y2="296.82" stroke="url(#g17)"/><line x1="87.6" y1="309.34" x2="195.4" y2="309.34" stroke="url(#g18)"/><line x1="79.8" y1="321.86" x2="156.4" y2="321.86" stroke="url(#g19)"/></g><text class="ti" x="212.9" y="65.9">ARC Easy</text><text class="tk" x="80.05" y="375.1">0.3</text><text class="tk" x="166.9" y="375.1">0.4</text><text class="tk" x="253.8" y="375.1">0.5</text><text class="tk" x="340.8" y="375.1">0.6</text><g stroke="#ebebeb" stroke-width="1.7"><line x1="396.8" y1="96.5" x2="705.6" y2="96.5"/><line x1="396.8" y1="134.06" x2="705.6" y2="134.06"/><line x1="396.8" y1="171.62" x2="705.6" y2="171.62"/><line x1="396.8" y1="209.18" x2="705.6" y2="209.18"/><line x1="396.8" y1="246.74" x2="705.6" y2="246.74"/><line x1="396.8" y1="284.3" x2="705.6" y2="284.3"/><line x1="396.8" y1="321.86" x2="705.6" y2="321.86"/><line x1="442.4" y1="77.4" x2="442.4" y2="340.8"/><line x1="516" y1="77.4" x2="516" y2="340.8"/><line x1="589" y1="77.4" x2="589" y2="340.8"/><line x1="662.3" y1="77.4" x2="662.3" y2="340.8"/></g><g stroke-width="7.6" stroke-linecap="round"><line x1="434.9" y1="96.5" x2="676.2" y2="96.5" stroke="url(#g20)"/><line x1="445.8" y1="109.02" x2="684.3" y2="109.02" stroke="url(#g21)"/><line x1="442.4" y1="121.54" x2="670.3" y2="121.54" stroke="url(#g22)"/><line x1="432" y1="134.06" x2="666.1" y2="134.06" stroke="url(#g23)"/><line x1="433.5" y1="146.58" x2="666.8" y2="146.58" stroke="url(#g24)"/><line x1="426.3" y1="159.1" x2="648.5" y2="159.1" stroke="url(#g25)"/><line x1="438.6" y1="171.62" x2="657.1" y2="171.62" stroke="url(#g26)"/><line x1="423.3" y1="184.14" x2="621.2" y2="184.14" stroke="url(#g27)"/><line x1="433.5" y1="196.66" x2="585.4" y2="196.66" stroke="url(#g28)"/><line x1="443.6" y1="209.18" x2="667.5" y2="209.18" stroke="url(#g29)"/><line x1="429.9" y1="221.7" x2="622.1" y2="221.7" stroke="url(#g30)"/><line x1="423.3" y1="234.22" x2="622.1" y2="234.22" stroke="url(#g31)"/><line x1="428.9" y1="246.74" x2="569.3" y2="246.74" stroke="url(#g32)"/><line x1="418.3" y1="259.26" x2="587.4" y2="259.26" stroke="url(#g33)"/><line x1="427.8" y1="271.78" x2="581.7" y2="271.78" stroke="url(#g34)"/><line x1="420.5" y1="284.3" x2="562.7" y2="284.3" stroke="url(#g35)"/><line x1="429.9" y1="296.82" x2="522.3" y2="296.82" stroke="url(#g36)"/><line x1="419.7" y1="309.34" x2="475.3" y2="309.34" stroke="url(#g37)"/><line x1="419.7" y1="321.86" x2="436.2" y2="321.86" stroke="url(#g38)"/></g><text class="ti" x="551.3" y="65.9">HellaSwag</text><text class="tk" x="442.4" y="375.1">0.3</text><text class="tk" x="516" y="375.1">0.4</text><text class="tk" x="589" y="375.1">0.5</text><text class="tk" x="662.3" y="375.1">0.6</text><g stroke="#ebebeb" stroke-width="1.7"><line x1="735.1" y1="114.56" x2="1044" y2="114.56"/><line x1="735.1" y1="150.14" x2="1044" y2="150.14"/><line x1="735.1" y1="185.72" x2="1044" y2="185.72"/><line x1="735.1" y1="221.3" x2="1044" y2="221.3"/><line x1="735.1" y1="256.88" x2="1044" y2="256.88"/><line x1="735.1" y1="292.46" x2="1044" y2="292.46"/><line x1="735.1" y1="328.04" x2="1044" y2="328.04"/><line x1="810.3" y1="77.4" x2="810.3" y2="340.8"/><line x1="884.5" y1="77.4" x2="884.5" y2="340.8"/><line x1="958.9" y1="77.4" x2="958.9" y2="340.8"/><line x1="1033.2" y1="77.4" x2="1033.2" y2="340.8"/></g><line x1="773.3" y1="91" x2="773.3" y2="328.04" stroke="#808080" stroke-width="3.7"/><g stroke-width="7.6" stroke-linecap="round"><line x1="788" y1="102.7" x2="991.8" y2="102.7" stroke="url(#g39)"/><line x1="773.3" y1="114.56" x2="942.4" y2="114.56" stroke="url(#g40)"/><line x1="777.3" y1="126.42" x2="950" y2="126.42" stroke="url(#g41)"/><line x1="771.8" y1="138.28" x2="967.7" y2="138.28" stroke="url(#g42)"/><line x1="791.7" y1="150.14" x2="968.9" y2="150.14" stroke="url(#g43)"/><line x1="799.8" y1="162" x2="993" y2="162" stroke="url(#g44)"/><line x1="780.9" y1="173.86" x2="923.8" y2="173.86" stroke="url(#g45)"/><line x1="783.9" y1="185.72" x2="986.2" y2="185.72" stroke="url(#g46)"/><line x1="793.9" y1="197.58" x2="996.8" y2="197.58" stroke="url(#g47)"/><line x1="773.7" y1="209.44" x2="847.9" y2="209.44" stroke="url(#g48)"/><line x1="769.8" y1="221.3" x2="950.4" y2="221.3" stroke="url(#g49)"/><line x1="781.3" y1="233.16" x2="863.3" y2="233.16" stroke="url(#g50)"/><line x1="804.7" y1="245.02" x2="1022.6" y2="245.02" stroke="url(#g51)"/><line x1="782.3" y1="256.88" x2="874" y2="256.88" stroke="url(#g52)"/><line x1="792" y1="268.74" x2="902.5" y2="268.74" stroke="url(#g53)"/><line x1="756.7" y1="280.6" x2="908.4" y2="280.6" stroke="url(#g54)"/><line x1="769.8" y1="292.46" x2="804" y2="292.46" stroke="url(#g55)"/><line x1="779.2" y1="304.32" x2="833.3" y2="304.32" stroke="url(#g56)"/><line x1="780.8" y1="316.18" x2="801.9" y2="316.18" stroke="url(#g57)"/></g><text class="ti" x="889.7" y="65.9">MMLU</text><text class="tk" x="735.9" y="375.1">0.24</text><text class="tk" x="810.3" y="375.1">0.26</text><text class="tk" x="884.5" y="375.1">0.28</text><text class="tk" x="958.9" y="375.1">0.3</text><text class="tk" x="1033.2" y="375.1">0.32</text><g stroke="#ebebeb" stroke-width="1.7"><line x1="58.5" y1="476.76" x2="366.9" y2="476.76"/><line x1="58.5" y1="512.34" x2="366.9" y2="512.34"/><line x1="58.5" y1="547.92" x2="366.9" y2="547.92"/><line x1="58.5" y1="583.5" x2="366.9" y2="583.5"/><line x1="58.5" y1="619.08" x2="366.9" y2="619.08"/><line x1="58.5" y1="654.66" x2="366.9" y2="654.66"/><line x1="58.5" y1="690.24" x2="366.9" y2="690.24"/><line x1="65.3" y1="440.1" x2="65.3" y2="703.5"/><line x1="189.4" y1="440.1" x2="189.4" y2="703.5"/><line x1="314" y1="440.1" x2="314" y2="703.5"/></g><line x1="189.4" y1="453.2" x2="189.4" y2="690.24" stroke="#808080" stroke-width="3.7"/><g stroke-width="7.6" stroke-linecap="round"><line x1="114.7" y1="464.9" x2="336.2" y2="464.9" stroke="url(#g58)"/><line x1="104.8" y1="476.76" x2="296.2" y2="476.76" stroke="url(#g59)"/><line x1="117.1" y1="488.62" x2="321.1" y2="488.62" stroke="url(#g60)"/><line x1="85" y1="500.48" x2="284" y2="500.48" stroke="url(#g61)"/><line x1="94.7" y1="512.34" x2="269" y2="512.34" stroke="url(#g62)"/><line x1="121.9" y1="524.2" x2="301.1" y2="524.2" stroke="url(#g63)"/><line x1="114.7" y1="536.06" x2="308.7" y2="536.06" stroke="url(#g64)"/><line x1="127" y1="547.92" x2="276.4" y2="547.92" stroke="url(#g65)"/><line x1="166.8" y1="559.78" x2="321.1" y2="559.78" stroke="url(#g66)"/><line x1="119.8" y1="571.64" x2="266.5" y2="571.64" stroke="url(#g67)"/><line x1="124.6" y1="583.5" x2="249.2" y2="583.5" stroke="url(#g68)"/><line x1="89.7" y1="595.36" x2="172" y2="595.36" stroke="url(#g69)"/><line x1="87.3" y1="607.22" x2="346.1" y2="607.22" stroke="url(#g70)"/><line x1="134.8" y1="619.08" x2="236.4" y2="619.08" stroke="url(#g71)"/><line x1="99.8" y1="630.94" x2="253.9" y2="630.94" stroke="url(#g72)"/><line x1="79.7" y1="642.8" x2="264" y2="642.8" stroke="url(#g73)"/><line x1="99.8" y1="654.66" x2="157.1" y2="654.66" stroke="url(#g74)"/><line x1="124.6" y1="666.52" x2="137.3" y2="666.52" stroke="url(#g75)"/><line x1="129.5" y1="678.38" x2="147.2" y2="678.38" stroke="url(#g76)"/></g><text class="ti" x="212.9" y="427.6">ARC Challenge</text><text class="tk" x="65.3" y="736.9">0.2</text><text class="tk" x="189.4" y="736.9">0.25</text><text class="tk" x="314" y="736.9">0.3</text><g stroke="#ebebeb" stroke-width="1.7"><line x1="396.8" y1="459.2" x2="705.6" y2="459.2"/><line x1="396.8" y1="496.76" x2="705.6" y2="496.76"/><line x1="396.8" y1="534.32" x2="705.6" y2="534.32"/><line x1="396.8" y1="571.88" x2="705.6" y2="571.88"/><line x1="396.8" y1="609.44" x2="705.6" y2="609.44"/><line x1="396.8" y1="647" x2="705.6" y2="647"/><line x1="396.8" y1="684.56" x2="705.6" y2="684.56"/><line x1="490.7" y1="440.1" x2="490.7" y2="703.5"/><line x1="587.4" y1="440.1" x2="587.4" y2="703.5"/><line x1="684.3" y1="440.1" x2="684.3" y2="703.5"/></g><g stroke-width="7.6" stroke-linecap="round"><line x1="529.8" y1="459.2" x2="631.2" y2="459.2" stroke="url(#g77)"/><line x1="572.9" y1="471.72" x2="582.8" y2="471.72" stroke="url(#g78)"/><line x1="529.8" y1="484.24" x2="563.4" y2="484.24" stroke="url(#g79)"/><line x1="544.1" y1="496.76" x2="582.8" y2="496.76" stroke="url(#g80)"/><line x1="563.3" y1="509.28" x2="597.3" y2="509.28" stroke="url(#g81)"/><line x1="578" y1="521.8" x2="665" y2="521.8" stroke="url(#g82)"/><line x1="500.6" y1="534.32" x2="650.3" y2="534.32" stroke="url(#g83)"/><line x1="529.8" y1="546.84" x2="573.1" y2="546.84" stroke="url(#g84)"/><line x1="490.9" y1="559.36" x2="602.1" y2="559.36" stroke="url(#g85)"/><line x1="563.3" y1="571.88" x2="597.3" y2="571.88" stroke="url(#g86)"/><line x1="529.8" y1="584.4" x2="650.3" y2="584.4" stroke="url(#g87)"/><line x1="534.4" y1="596.92" x2="684.1" y2="596.92" stroke="url(#g88)"/><line x1="447.4" y1="609.44" x2="534.2" y2="609.44" stroke="url(#g89)"/><line x1="466.8" y1="621.96" x2="553.6" y2="621.96" stroke="url(#g90)"/><line x1="563.3" y1="634.48" x2="587.6" y2="634.48" stroke="url(#g91)"/><line x1="529.8" y1="647" x2="568.1" y2="647" stroke="url(#g92)"/><line x1="505.5" y1="659.52" x2="616.6" y2="659.52" stroke="url(#g93)"/><line x1="466.8" y1="672.04" x2="505.2" y2="672.04" stroke="url(#g94)"/><line x1="418.4" y1="684.56" x2="529.2" y2="684.56" stroke="url(#g95)"/></g><text class="ti" x="550.2" y="427.6">SIQA</text><text class="tk" x="490.7" y="736.9">0.38</text><text class="tk" x="587.4" y="736.9">0.4</text><text class="tk" x="684.3" y="736.9">0.42</text><g stroke="#ebebeb" stroke-width="1.7"><line x1="735.1" y1="459.2" x2="1044" y2="459.2"/><line x1="735.1" y1="496.76" x2="1044" y2="496.76"/><line x1="735.1" y1="534.32" x2="1044" y2="534.32"/><line x1="735.1" y1="571.88" x2="1044" y2="571.88"/><line x1="735.1" y1="609.44" x2="1044" y2="609.44"/><line x1="735.1" y1="647" x2="1044" y2="647"/><line x1="735.1" y1="684.56" x2="1044" y2="684.56"/><line x1="818" y1="440.1" x2="818" y2="703.5"/><line x1="918.8" y1="440.1" x2="918.8" y2="703.5"/><line x1="1019.5" y1="440.1" x2="1019.5" y2="703.5"/></g><g stroke-width="7.6" stroke-linecap="round"><line x1="865.5" y1="459.2" x2="1010.4" y2="459.2" stroke="url(#g96)"/><line x1="876.7" y1="471.72" x2="1022.6" y2="471.72" stroke="url(#g97)"/><line x1="873.5" y1="484.24" x2="1004.4" y2="484.24" stroke="url(#g98)"/><line x1="848.4" y1="496.76" x2="988.3" y2="496.76" stroke="url(#g99)"/><line x1="864.6" y1="509.28" x2="1001.4" y2="509.28" stroke="url(#g100)"/><line x1="837.2" y1="521.8" x2="968.2" y2="521.8" stroke="url(#g101)"/><line x1="856.1" y1="534.32" x2="1009.6" y2="534.32" stroke="url(#g102)"/><line x1="815.1" y1="546.84" x2="958.3" y2="546.84" stroke="url(#g103)"/><line x1="792.9" y1="559.36" x2="933" y2="559.36" stroke="url(#g104)"/><line x1="893.8" y1="571.88" x2="1008.5" y2="571.88" stroke="url(#g105)"/><line x1="796" y1="584.4" x2="943.1" y2="584.4" stroke="url(#g106)"/><line x1="810.9" y1="596.92" x2="966.1" y2="596.92" stroke="url(#g107)"/><line x1="780.8" y1="609.44" x2="897.6" y2="609.44" stroke="url(#g108)"/><line x1="810.9" y1="621.96" x2="944.1" y2="621.96" stroke="url(#g109)"/><line x1="772.9" y1="634.48" x2="893.6" y2="634.48" stroke="url(#g110)"/><line x1="761.6" y1="647" x2="873.5" y2="647" stroke="url(#g111)"/><line x1="796.9" y1="659.52" x2="904.7" y2="659.52" stroke="url(#g112)"/><line x1="772.9" y1="672.04" x2="873.5" y2="672.04" stroke="url(#g113)"/><line x1="756.6" y1="684.56" x2="804.9" y2="684.56" stroke="url(#g114)"/></g><text class="ti" x="889.7" y="427.6">PIQA</text><text class="tk" x="818" y="736.9">0.6</text><text class="tk" x="918.8" y="736.9">0.7</text><text class="tk" x="1019.5" y="736.9">0.8</text><g stroke="#ebebeb" stroke-width="1.7"><line x1="58.5" y1="839.26" x2="366.9" y2="839.26"/><line x1="58.5" y1="874.84" x2="366.9" y2="874.84"/><line x1="58.5" y1="910.42" x2="366.9" y2="910.42"/><line x1="58.5" y1="946" x2="366.9" y2="946"/><line x1="58.5" y1="981.58" x2="366.9" y2="981.58"/><line x1="58.5" y1="1017.16" x2="366.9" y2="1017.16"/><line x1="58.5" y1="1052.74" x2="366.9" y2="1052.74"/><line x1="164.7" y1="802.3" x2="164.7" y2="1065.7"/><line x1="311.2" y1="802.3" x2="311.2" y2="1065.7"/></g><line x1="164.7" y1="815.7" x2="164.7" y2="1052.74" stroke="#808080" stroke-width="3.7"/><g stroke-width="7.6" stroke-linecap="round"><line x1="144.3" y1="827.4" x2="311" y2="827.4" stroke="url(#g115)"/><line x1="138.7" y1="839.26" x2="331.2" y2="839.26" stroke="url(#g116)"/><line x1="167.9" y1="851.12" x2="290.3" y2="851.12" stroke="url(#g117)"/><line x1="164.9" y1="862.98" x2="299.3" y2="862.98" stroke="url(#g118)"/><line x1="179.5" y1="874.84" x2="296.2" y2="874.84" stroke="url(#g119)"/><line x1="147.2" y1="886.7" x2="293.3" y2="886.7" stroke="url(#g120)"/><line x1="121" y1="898.56" x2="287.5" y2="898.56" stroke="url(#g121)"/><line x1="100.5" y1="910.42" x2="296.2" y2="910.42" stroke="url(#g122)"/><line x1="158.9" y1="922.28" x2="281.6" y2="922.28" stroke="url(#g123)"/><line x1="83" y1="934.14" x2="258.1" y2="934.14" stroke="url(#g124)"/><line x1="185.1" y1="946" x2="302" y2="946" stroke="url(#g125)"/><line x1="79.7" y1="957.86" x2="346" y2="957.86" stroke="url(#g126)"/><line x1="187.9" y1="969.72" x2="226" y2="969.72" stroke="url(#g127)"/><line x1="144.3" y1="981.58" x2="278.7" y2="981.58" stroke="url(#g128)"/><line x1="176.2" y1="993.44" x2="284.5" y2="993.44" stroke="url(#g129)"/><line x1="162" y1="1005.3" x2="299.3" y2="1005.3" stroke="url(#g130)"/><line x1="173.5" y1="1017.16" x2="284.5" y2="1017.16" stroke="url(#g131)"/><line x1="205.8" y1="1029.02" x2="240.7" y2="1029.02" stroke="url(#g132)"/><line x1="123.9" y1="1040.88" x2="208.5" y2="1040.88" stroke="url(#g133)"/></g><text class="ti" x="212.9" y="791.1">WinoGrande</text><text class="tk" x="164.7" y="1099.1">0.5</text><text class="tk" x="311.2" y="1099.1">0.55</text><g stroke="#ebebeb" stroke-width="1.7"><line x1="396.8" y1="821.2" x2="705.6" y2="821.2"/><line x1="396.8" y1="858.76" x2="705.6" y2="858.76"/><line x1="396.8" y1="896.32" x2="705.6" y2="896.32"/><line x1="396.8" y1="933.88" x2="705.6" y2="933.88"/><line x1="396.8" y1="971.44" x2="705.6" y2="971.44"/><line x1="396.8" y1="1009" x2="705.6" y2="1009"/><line x1="396.8" y1="1046.56" x2="705.6" y2="1046.56"/><line x1="439.9" y1="802.3" x2="439.9" y2="1065.7"/><line x1="537.3" y1="802.3" x2="537.3" y2="1065.7"/><line x1="635.5" y1="802.3" x2="635.5" y2="1065.7"/></g><g stroke-width="7.6" stroke-linecap="round"><line x1="469" y1="821.2" x2="672.8" y2="821.2" stroke="url(#g134)"/><line x1="455.4" y1="833.72" x2="670.7" y2="833.72" stroke="url(#g135)"/><line x1="463.2" y1="846.24" x2="623.8" y2="846.24" stroke="url(#g136)"/><line x1="467.1" y1="858.76" x2="674.6" y2="858.76" stroke="url(#g137)"/><line x1="441.7" y1="871.28" x2="664.7" y2="871.28" stroke="url(#g138)"/><line x1="441.7" y1="883.8" x2="666.7" y2="883.8" stroke="url(#g139)"/><line x1="474.9" y1="896.32" x2="635.1" y2="896.32" stroke="url(#g140)"/><line x1="439.7" y1="908.84" x2="643.2" y2="908.84" stroke="url(#g141)"/><line x1="463.2" y1="921.36" x2="584.4" y2="921.36" stroke="url(#g142)"/><line x1="482.8" y1="933.88" x2="604.1" y2="933.88" stroke="url(#g143)"/><line x1="449.6" y1="946.4" x2="684.4" y2="946.4" stroke="url(#g144)"/><line x1="474.9" y1="958.92" x2="680.4" y2="958.92" stroke="url(#g145)"/><line x1="435.8" y1="971.44" x2="594.2" y2="971.44" stroke="url(#g146)"/><line x1="443.7" y1="983.96" x2="637.1" y2="983.96" stroke="url(#g147)"/><line x1="449.6" y1="996.48" x2="657" y2="996.48" stroke="url(#g148)"/><line x1="455.4" y1="1009" x2="617.8" y2="1009" stroke="url(#g149)"/><line x1="428" y1="1021.52" x2="543.4" y2="1021.52" stroke="url(#g150)"/><line x1="426" y1="1034.04" x2="486.8" y2="1034.04" stroke="url(#g151)"/><line x1="418.1" y1="1046.56" x2="543.4" y2="1046.56" stroke="url(#g152)"/></g><text class="ti" x="550.2" y="791.1">CommonsenseQA</text><text class="tk" x="439.9" y="1099.1">0.25</text><text class="tk" x="537.3" y="1099.1">0.3</text><text class="tk" x="635.5" y="1099.1">0.35</text><g stroke="#ebebeb" stroke-width="1.7"><line x1="735.1" y1="839.26" x2="1044" y2="839.26"/><line x1="735.1" y1="874.84" x2="1044" y2="874.84"/><line x1="735.1" y1="910.42" x2="1044" y2="910.42"/><line x1="735.1" y1="946" x2="1044" y2="946"/><line x1="735.1" y1="981.58" x2="1044" y2="981.58"/><line x1="735.1" y1="1017.16" x2="1044" y2="1017.16"/><line x1="735.1" y1="1052.74" x2="1044" y2="1052.74"/><line x1="796.3" y1="802.3" x2="796.3" y2="1065.7"/><line x1="886.3" y1="802.3" x2="886.3" y2="1065.7"/><line x1="976.1" y1="802.3" x2="976.1" y2="1065.7"/></g><line x1="796" y1="815.7" x2="796" y2="1052.74" stroke="#808080" stroke-width="3.7"/><g stroke-width="7.6" stroke-linecap="round"><line x1="796.4" y1="827.4" x2="986.7" y2="827.4" stroke="url(#g153)"/><line x1="810.8" y1="839.26" x2="972.3" y2="839.26" stroke="url(#g154)"/><line x1="785.6" y1="851.12" x2="958.2" y2="851.12" stroke="url(#g155)"/><line x1="781.8" y1="862.98" x2="986.7" y2="862.98" stroke="url(#g156)"/><line x1="806.9" y1="874.84" x2="958.2" y2="874.84" stroke="url(#g157)"/><line x1="817.9" y1="886.7" x2="968.9" y2="886.7" stroke="url(#g158)"/><line x1="832.3" y1="898.56" x2="983.3" y2="898.56" stroke="url(#g159)"/><line x1="835.9" y1="910.42" x2="1008.4" y2="910.42" stroke="url(#g160)"/><line x1="803.8" y1="922.28" x2="1022.8" y2="922.28" stroke="url(#g161)"/><line x1="806.9" y1="934.14" x2="933" y2="934.14" stroke="url(#g162)"/><line x1="832.3" y1="946" x2="950.8" y2="946" stroke="url(#g163)"/><line x1="803.8" y1="957.86" x2="975.9" y2="957.86" stroke="url(#g164)"/><line x1="875.6" y1="969.72" x2="950.8" y2="969.72" stroke="url(#g165)"/><line x1="760" y1="981.58" x2="922.1" y2="981.58" stroke="url(#g166)"/><line x1="821.6" y1="993.44" x2="907.7" y2="993.44" stroke="url(#g167)"/><line x1="810.8" y1="1005.3" x2="922.1" y2="1005.3" stroke="url(#g168)"/><line x1="799.8" y1="1017.16" x2="886.1" y2="1017.16" stroke="url(#g169)"/><line x1="789" y1="1029.02" x2="810.3" y2="1029.02" stroke="url(#g170)"/><line x1="756.9" y1="1040.88" x2="806.8" y2="1040.88" stroke="url(#g171)"/></g><text class="ti" x="889.7" y="791.1">OpenBookQA</text><text class="tk" x="796.3" y="1099.1">0.25</text><text class="tk" x="886.3" y="1099.1">0.3</text><text class="tk" x="976.1" y="1099.1">0.35</text><circle cx="1103.1" cy="110.85" r="11.8" fill="#124b97"/><text class="lg" x="1143" y="123.05">HI-IN-HI-dtp-OP</text><circle cx="1103.1" cy="157.9" r="11.8" fill="#2a7b86"/><text class="lg" x="1143" y="170.1">HI-IN-HI-dtp-OP-NA</text><circle cx="1103.1" cy="204.95" r="11.8" fill="#2d1a6b"/><text class="lg" x="1143" y="217.15">HI-IN-HI-dtp</text><circle cx="1103.1" cy="252" r="11.8" fill="#4cab84"/><text class="lg" x="1143" y="264.2">HI-IN-HI-dtp-OP-NA-ID</text><circle cx="1103.1" cy="299.05" r="11.8" fill="#98d461"/><text class="lg" x="1143" y="311.25">HI-IN-HI-dtp-OP-NA-ID-SP</text><circle cx="1103.1" cy="346.1" r="11.8" fill="#0000ff"/><text class="lg" x="1143" y="358.3">FineWeb</text><circle cx="1103.1" cy="393.15" r="11.8" fill="#30123b"/><text class="lg" x="1143" y="405.35">Instructive-Informational (HI-IN)</text><circle cx="1103.1" cy="440.2" r="11.8" fill="#ff0000"/><text class="lg" x="1143" y="452.4">HPLT v2 (all registers)</text><circle cx="1103.1" cy="487.25" r="11.8" fill="#4454c4"/><text class="lg" x="1143" y="499.45">Description (dtp)</text><circle cx="1103.1" cy="534.3" r="11.8" fill="#4189f3"/><text class="lg" x="1143" y="546.5">How-to-Instructions (HI)</text><circle cx="1103.1" cy="581.35" r="11.8" fill="#1fc8de"/><text class="lg" x="1143" y="593.55">Opinion (OP)</text><circle cx="1103.1" cy="628.4" r="11.8" fill="#7dff56"/><text class="lg" x="1143" y="640.6">Narrative (NA)</text><circle cx="1103.1" cy="675.45" r="11.8" fill="#29efa2"/><text class="lg" x="1143" y="687.65">Informational Description (IN)</text><circle cx="1103.1" cy="722.5" r="11.8" fill="#c1f334"/><text class="lg" x="1143" y="734.7">Interactive Discussion (ID)</text><circle cx="1103.1" cy="769.55" r="11.8" fill="#f1ca3a"/><text class="lg" x="1143" y="781.75">Spoken (SP)</text><circle cx="1103.1" cy="816.6" r="11.8" fill="#fe922a"/><text class="lg" x="1143" y="828.8">News (ne)</text><circle cx="1103.1" cy="863.65" r="11.8" fill="#ea4f0d"/><text class="lg" x="1143" y="875.85">Informational Persuasion (IP)</text><circle cx="1103.1" cy="910.7" r="11.8" fill="#be2102"/><text class="lg" x="1143" y="922.9">Machine Translation (MT)</text><circle cx="1103.1" cy="957.75" r="11.8" fill="#7a0403"/><text class="lg" x="1143" y="969.95">Lyrical (LY)</text></svg>
<div class="cap"><span class="cw" style="left:18.13px;top:1180.3px;transform:scaleX(1.0944)">Figure</span> <span class="cw" style="left:167.52px;top:1180.3px;transform:scaleX(1.0400)">3:</span> <span class="cw" style="left:227.56px;top:1180.3px;transform:scaleX(1.1090)">Change</span> <span class="cw" style="left:403.04px;top:1180.3px;transform:scaleX(1.0632)">of</span> <span class="cw" style="left:460.89px;top:1180.3px;transform:scaleX(1.0738)">accuracy</span> <span class="cw" style="left:659.46px;top:1180.3px;transform:scaleX(1.0751)">from</span> <span class="cw" style="left:774.15px;top:1180.3px;transform:scaleX(1.0777)">first</span> <span class="cw" style="left:874.02px;top:1180.3px;transform:scaleX(1.1114)">to</span> <span class="cw" style="left:930.57px;top:1180.3px;transform:scaleX(1.0624)">final</span> <span class="cw" style="left:1038.49px;top:1180.3px;transform:scaleX(1.0896)">checkpoint</span> <span class="cw" style="left:1280.92px;top:1180.3px;transform:scaleX(1.1293)">on</span> <span class="cw" style="left:1351.86px;top:1180.3px;transform:scaleX(1.1157)">individual</span> <span class="cw" style="left:1584.77px;top:1180.3px;transform:scaleX(1.0931)">benchmarks</span> <span class="cw" style="left:18.05px;top:1230.6px;transform:scaleX(1.1162)">shown</span> <span class="cw" style="left:166.71px;top:1230.6px;transform:scaleX(1.1260)">as</span> <span class="cw" style="left:220.33px;top:1230.6px;transform:scaleX(1.1158)">a</span> <span class="cw" style="left:256.08px;top:1230.6px;transform:scaleX(1.0971)">range,</span> <span class="cw" style="left:396.47px;top:1230.6px;transform:scaleX(1.0955)">with</span> <span class="cw" style="left:498.85px;top:1230.6px;transform:scaleX(1.0760)">grey</span> <span class="cw" style="left:601.89px;top:1230.6px;transform:scaleX(1.0812)">indicating</span> <span class="cw" style="left:820.93px;top:1230.6px;transform:scaleX(1.0862)">the</span> <span class="cw" style="left:893.47px;top:1230.6px;transform:scaleX(1.0605)">first</span> <span class="cw" style="left:985.71px;top:1230.6px;transform:scaleX(1.0785)">checkpoint</span> <span class="cw" style="left:1220.81px;top:1230.6px;transform:scaleX(1.1281)">and</span> <span class="cw" style="left:1309.1px;top:1230.6px;transform:scaleX(1.0872)">colours</span> <span class="cw" style="left:1471.59px;top:1230.6px;transform:scaleX(1.0854)">indicating</span> <span class="cw" style="left:1689.92px;top:1230.6px;transform:scaleX(1.1040)">the</span> <span class="cw" style="left:1764.39px;top:1230.6px;transform:scaleX(1.0815)">last</span> <span class="cw" style="left:18.13px;top:1280.5px;transform:scaleX(1.0705)">checkpoint.</span> <span class="cw" style="left:267.4px;top:1280.5px;transform:scaleX(1.0629)">The</span> <span class="cw" style="left:355.38px;top:1280.5px;transform:scaleX(1.0952)">random-guess</span> <span class="cw" style="left:659.73px;top:1280.5px;transform:scaleX(1.0767)">threshold</span> <span class="cw" style="left:862.5px;top:1280.5px;transform:scaleX(1.0632)">is</span> <span class="cw" style="left:904.95px;top:1280.5px;transform:scaleX(1.1162)">shown</span> <span class="cw" style="left:1053.61px;top:1280.5px;transform:scaleX(1.1288)">as</span> <span class="cw" style="left:1107.03px;top:1280.5px;transform:scaleX(1.1158)">a</span> <span class="cw" style="left:1140.73px;top:1280.5px;transform:scaleX(1.0857)">grey</span> <span class="cw" style="left:1244.96px;top:1280.5px;transform:scaleX(1.0554)">vertical</span> <span class="cw" style="left:1406.19px;top:1280.5px;transform:scaleX(1.0783)">line</span> <span class="cw" style="left:1492.99px;top:1280.5px;transform:scaleX(1.0825)">in</span> <span class="cw" style="left:1543.37px;top:1280.5px;transform:scaleX(1.0485)">cases</span> <span class="cw" style="left:1660.97px;top:1280.5px;transform:scaleX(1.0867)">where</span> <span class="cw" style="left:1796.19px;top:1280.5px;transform:scaleX(1.1420)">at</span> <span class="cw" style="left:19.21px;top:1331.5px;transform:scaleX(1.0551)">least</span> <span class="cw" style="left:122.28px;top:1331.5px;transform:scaleX(1.0973)">one</span> <span class="cw" style="left:207.49px;top:1331.5px;transform:scaleX(1.0849)">model</span> <span class="cw" style="left:346.68px;top:1331.5px;transform:scaleX(1.0570)">falls</span> <span class="cw" style="left:445.26px;top:1331.5px;transform:scaleX(1.0297)">below</span> <span class="cw" style="left:577.59px;top:1331.5px;transform:scaleX(1.0841)">it.</span> <span class="cw" style="left:633.24px;top:1331.5px;transform:scaleX(1.0077)">Bars</span> <span class="cw" style="left:731.45px;top:1331.5px;transform:scaleX(1.1026)">and</span> <span class="cw" style="left:820.4px;top:1331.5px;transform:scaleX(1.0733)">legend</span> <span class="cw" style="left:967.66px;top:1331.5px;transform:scaleX(1.1064)">shown</span> <span class="cw" style="left:1115.99px;top:1331.5px;transform:scaleX(1.0797)">in</span> <span class="cw" style="left:1166.18px;top:1331.5px;transform:scaleX(1.0992)">order</span> <span class="cw" style="left:1286.89px;top:1331.5px;transform:scaleX(1.0368)">of</span> <span class="cw" style="left:1339.58px;top:1331.5px;transform:scaleX(1.0791)">average</span> <span class="cw" style="left:1509.84px;top:1331.5px;transform:scaleX(1.0410)">accuracy.</span></div>
</body></html>
